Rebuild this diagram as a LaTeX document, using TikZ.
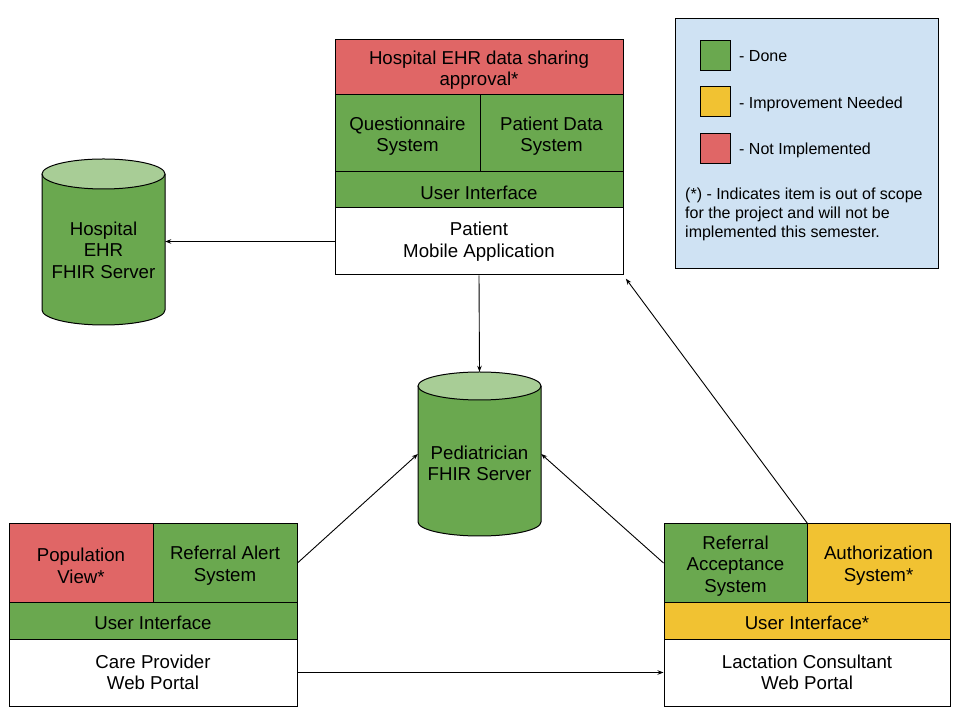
\documentclass[tikz,border=0pt]{standalone}
\usepackage{fontspec}
\setmainfont{Liberation Sans}
\usetikzlibrary{arrows.meta}
\definecolor{gdone}{HTML}{6AA84F}
\definecolor{gtop}{HTML}{A8CD96}
\definecolor{gred}{HTML}{E06666}
\definecolor{gyel}{HTML}{F1C232}
\definecolor{glegend}{HTML}{CFE2F3}
\newcommand\dbcyl[5]{% cx, rx, ytop, ybottom, ry
  \fill[gdone] (#1-#2,#3) -- (#1-#2,#4) arc[start angle=180,end angle=360,x radius=#2,y radius=#5] -- (#1+#2,#3) -- cycle;
  \draw[line width=1pt] (#1-#2,#3) -- (#1-#2,#4) arc[start angle=180,end angle=360,x radius=#2,y radius=#5] -- (#1+#2,#3);
  \draw[line width=1pt,fill=gtop] (#1,#3) ellipse[x radius=#2,y radius=#5];
}
\begin{document}
\begin{tikzpicture}[x=1pt,y=1pt,
  box/.style={draw,line width=1pt,inner sep=0pt,align=center,
    font=\fontsize{18.67}{21.5}\selectfont},
  txt/.style={inner sep=0pt,align=center,yshift=-2.7pt,
    font=\fontsize{18.67}{21.5}\selectfont},
  tb/.style={label={[txt]center:{#1}}},
  done/.style={box,fill=gdone},
  notimpl/.style={box,fill=gred},
  improve/.style={box,fill=gyel},
  plain/.style={box,fill=white},
  conn/.style={line width=0.9pt,-{Stealth[length=6pt,width=4.5pt]}},
  swatch/.style={draw,line width=1pt,minimum width=30pt,minimum height=30pt,inner sep=0pt},
  legtext/.style={anchor=base west,inner sep=0pt,font=\fontsize{16}{19}\selectfont,align=left}]
\useasboundingbox (0,0) rectangle (960,720);
\fill[white] (0,0) rectangle (960,720);

% Legend
\node[draw,line width=1pt,fill=glegend,minimum width=263pt,minimum height=250pt,inner sep=0pt] (legend) at (806.5,576) {};
\node[swatch,fill=gdone] (sw1) at (715,664) {};
\node[swatch,fill=gyel] (sw2) at (715,618) {};
\node[swatch,fill=gred] (sw3) at (715,571.5) {};
\node[legtext] (lt1) at (739,658) {- Done};
\node[legtext] (lt2) at (739,611.5) {- Improvement Needed};
\node[legtext] (lt3) at (739,565) {- Not Implemented};
\node[legtext,anchor=west] (note) at (685,506) {(*) - Indicates item is out of scope\\for the project and will not be\\implemented this semester.};

% Patient Mobile Application
\node[notimpl,minimum width=288pt,minimum height=55pt,tb={Hospital EHR data sharing\\approval*}] (ehrapp) at (479,652.5) {};
\node[done,minimum width=145pt,minimum height=77pt,tb={Questionnaire\\System}] (quest) at (407.5,586.5) {};
\node[done,minimum width=143pt,minimum height=77pt,tb={Patient Data\\System}] (pdata) at (551.5,586.5) {};
\node[done,minimum width=288pt,minimum height=36pt,tb={User Interface}] (pui) at (479,530) {};
\node[plain,minimum width=288pt,minimum height=67pt] (pat) at (479,478.5) {Patient\\Mobile Application};

% Hospital EHR cylinder
\dbcyl{103.5}{61.5}{546}{410}{15}
\node[inner sep=0pt,minimum width=123pt,minimum height=166pt] (hosp) at (103.5,478) {};
\node[inner sep=0pt,align=center,font=\fontsize{18.67}{21.5}\selectfont] (hosptxt) at (103.5,470) {Hospital\\EHR\\FHIR Server};

% Pediatrician cylinder
\dbcyl{479.5}{61.5}{334}{198}{14}
\node[inner sep=0pt,minimum width=123pt,minimum height=164pt] (ped) at (479.5,266) {};
\node[inner sep=0pt,align=center,font=\fontsize{18.67}{21.5}\selectfont] (pedtxt) at (479.5,256.5) {Pediatrician\\FHIR Server};

% Care Provider Web Portal
\node[notimpl,minimum width=144pt,minimum height=78pt,tb={Population\\View*}] (pop) at (81,157) {};
\node[done,minimum width=144pt,minimum height=78pt,tb={Referral Alert\\System}] (ralert) at (225,157) {};
\node[done,minimum width=288pt,minimum height=37pt,tb={User Interface}] (cui) at (153,99.5) {};
\node[plain,minimum width=288pt,minimum height=67pt] (care) at (153,47.5) {Care Provider\\Web Portal};

% Lactation Consultant Web Portal
\node[done,minimum width=143pt,minimum height=78pt,tb={Referral\\Acceptance\\System}] (racc) at (735.5,157) {};
\node[improve,minimum width=143pt,minimum height=78pt,tb={Authorization\\System*}] (auth) at (878.5,157) {};
\node[improve,minimum width=286pt,minimum height=37pt,tb={User Interface*}] (lui) at (807,99.5) {};
\node[plain,minimum width=286pt,minimum height=67pt] (lact) at (807,47.5) {Lactation Consultant\\Web Portal};

% Connectors
\draw[conn] (pat.west) -- (pat.west -| hosp.east);
\draw[conn] (pat.south) -- (ped.north);
\draw[conn] (ralert.east) -- (ped.west);
\draw[conn] (racc.west) -- (ped.east);
\draw[conn,shorten >=4pt] (racc.north east) -- (pat.south east);
\draw[conn] (care.east) -- (lact.west);
\end{tikzpicture}
\end{document}
